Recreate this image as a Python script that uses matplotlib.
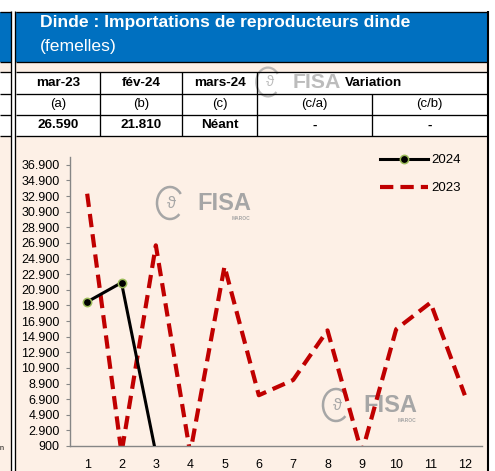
import numpy as np
import matplotlib.pyplot as plt
from matplotlib.patches import Rectangle, Arc
from matplotlib.ticker import FuncFormatter

W, H = 495, 471

# data
months = list(range(1, 13))
imports_2023 = [33200, 0, 26590, 0, 23900, 7400, 9350, 15700, 0, 15850, 19250, 7400]
imports_2024 = [19350, 21810, 0]

title = 'Dinde : Importations de reproducteurs dinde'
subtitle = '(femelles)'
col_heads = ['mar-23', 'fév-24', 'mars-24']
col_subs = ['(a)', '(b)', '(c)', '(c/a)', '(c/b)']
col_vals = ['26.590', '21.810', 'Néant', '-', '-']

cream = '#FDF0E6'
blue = '#0070C0'
axis_gray = '#868686'

plt.rcParams['font.family'] = ['Liberation Sans', 'DejaVu Sans']

fig = plt.figure(figsize=(W / 100, H / 100), dpi=100)

# background layer in pixel coords (y down)
bg = fig.add_axes([0, 0, 1, 1])
bg.set_xlim(0, W)
bg.set_ylim(H, 0)
bg.axis('off')


def box(x0, y0, x1, y1, color):
    bg.add_patch(Rectangle((x0, y0), x1 - x0, y1 - y0, facecolor=color,
                           edgecolor='none', zorder=1))


def hline(y, x0, x1, lw=0.95):
    bg.plot([x0, x1], [y, y], color='black', lw=lw, solid_capstyle='butt', zorder=3)


def vline(x, y0, y1, lw=0.95):
    bg.plot([x, x], [y0, y1], color='black', lw=lw, solid_capstyle='butt', zorder=3)


for x0, x1 in [(0, 10.5), (15.5, 487)]:
    box(x0, 12, x1, 61.5, blue)
    box(x0, 61.5, x1, H, cream)
    box(x0, 72, x1, 136, 'white')
    for y in [11.5, 61.5, 71.8, 93.7, 114.6, 136.2]:
        hline(y, x0, x1)

vline(10.8, 11, H)
vline(15.3, 11, H)
vline(487.7, 11, H, lw=1.5)
for x in [100, 182.4, 257.4]:
    vline(x, 71.8, 136.2)
vline(372, 93.7, 136.2)

# header texts
bg.text(40, 23, title, color='white', fontsize=12.6, fontweight='bold', va='center', ha='left', zorder=4)
bg.text(40, 46, subtitle, color='white', fontsize=12.6, va='center', ha='left', zorder=4)

centers = [58, 141, 220, 314.5, 429.5]
for cx, t in zip(centers[:3], col_heads):
    bg.text(cx, 82.5, t, fontsize=9.7, fontweight='bold', ha='center', va='center', zorder=4)
bg.text(374, 82.5, 'Variation', fontsize=9.7, fontweight='bold', ha='center', va='center', zorder=4)
for cx, t in zip(centers, col_subs):
    bg.text(cx, 104.5, t, fontsize=9.5, ha='center', va='center', zorder=4)
for cx, t in zip(centers, col_vals):
    bg.text(cx, 125.5, t, fontsize=9.7, fontweight='bold', ha='center', va='center', zorder=4)

bg.text(0, 449, 'n', fontsize=5, ha='left', va='center', zorder=4)


# watermark logos
def logo(x, y, scale=1.0, alpha=1.0, maroc=True):
    c = '#A6A6A6'
    bg.add_patch(Arc((x, y), 26 * scale, 32 * scale, theta1=50, theta2=320,
                     color=c, lw=1.8 * scale, alpha=alpha, zorder=2))
    bg.text(x + 2 * scale, y, 'ϑ', fontsize=12 * scale, color=c,
            ha='center', va='center', alpha=alpha, zorder=2)
    bg.text(x + 27 * scale, y + 1, 'FISA', fontsize=17 * scale, color=c, fontweight='bold',
            ha='left', va='center', alpha=alpha, zorder=2)
    if maroc:
        bg.text(x + 80 * scale, y + 15 * scale, 'MAROC', fontsize=3.5 * scale, color=c,
                fontweight='bold', ha='right', va='center', alpha=alpha, zorder=2)


logo(170, 203)
logo(336, 405)
logo(268, 82, scale=0.9, alpha=0.75, maroc=False)

# chart
ax = fig.add_axes([70 / W, (H - 446) / H, (482 - 70) / W, (446 - 157) / H])
ax.patch.set_alpha(0)

ax.plot(months, imports_2023, color='#C00000', lw=3.0, linestyle=(0, (3.2, 1.7)),
        label='2023', zorder=2)
ax.plot(months[:len(imports_2024)], imports_2024, color='black', lw=2.2,
        marker='o', markersize=6, markerfacecolor='black', markeredgecolor='#9BBB59',
        markeredgewidth=1.1, label='2024', zorder=3)

ax.set_xlim(0.5, 12.5)
ax.set_ylim(900, 37900)
ax.set_xticks(months)
ax.set_yticks(np.arange(900, 37000, 2000))
ax.yaxis.set_major_formatter(FuncFormatter(lambda v, p: f'{int(v):,}'.replace(',', '.')))

for s in ['top', 'right']:
    ax.spines[s].set_visible(False)
for s in ['left', 'bottom']:
    ax.spines[s].set_color(axis_gray)
    ax.spines[s].set_linewidth(1.0)

ax.tick_params(axis='y', direction='out', length=3, color=axis_gray, labelsize=9, pad=4.5)
ax.tick_params(axis='x', length=0, labelsize=9, pad=9)

handles, labels = ax.get_legend_handles_labels()
ax.legend(handles[::-1], labels[::-1], loc='upper left',
          bbox_to_anchor=(380 / W, 1 - 154 / H), bbox_transform=fig.transFigure,
          frameon=False, fontsize=9.5, handlelength=3.6, handletextpad=0.3,
          labelspacing=1.2, borderpad=0, borderaxespad=0)

fig.savefig('out.png', dpi=100)
